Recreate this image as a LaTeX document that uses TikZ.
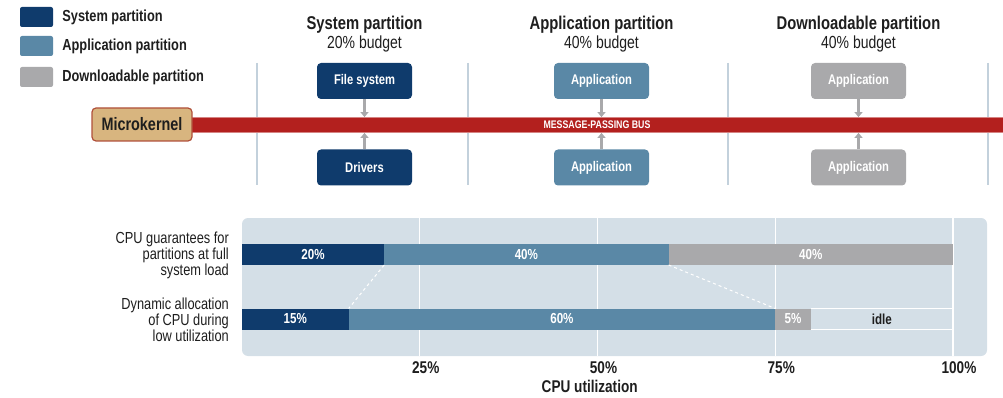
\documentclass[tikz,border=0pt]{standalone}
\usepackage{fontspec}
\setmainfont{Liberation Sans}[FakeStretch=0.8]
\usetikzlibrary{positioning,arrows.meta}

\definecolor{sysblue}{HTML}{0F3B6C}
\definecolor{appblue}{HTML}{5A88A6}
\definecolor{dlgray}{HTML}{A9A9AB}
\definecolor{busred}{HTML}{B3201E}
\definecolor{kerneltan}{HTML}{D8B57F}
\definecolor{kernelrim}{HTML}{B0503A}
\definecolor{chartbg}{HTML}{D4DFE7}
\definecolor{sepline}{HTML}{C3D1DC}
\definecolor{inktext}{HTML}{1E1E1E}

% one percent of CPU on the chart
\newcommand\pct{7.11pt}

\tikzset{
  swatch/.style={rounded corners=2pt, minimum width=33pt, minimum height=20pt, inner sep=0pt},
  legtext/.style={text=inktext, font=\bfseries\fontsize{16}{18}\selectfont, anchor=west, inner sep=0pt},
  head/.style={text=inktext, font=\bfseries\fontsize{18.5}{20}\selectfont, inner sep=1pt},
  budget/.style={text=inktext, font=\fontsize{17.5}{19}\selectfont, inner sep=1pt},
  part/.style={rounded corners=4pt, minimum width=95pt, minimum height=36pt, inner sep=0pt,
    text=white, font=\bfseries\fontsize{14}{16}\selectfont},
  sysbox/.style={part, fill=sysblue},
  appbox/.style={part, fill=appblue},
  dlbox/.style={part, fill=dlgray},
  busarrow/.style={draw=dlgray, line width=3pt, -{Triangle[length=5pt,width=8pt]}},
  sep/.style={draw=sepline, line width=2.5pt},
  seg/.style={minimum height=21pt, inner sep=0pt, outer sep=0pt, text=white,
    font=\bfseries\fontsize{14.5}{16}\selectfont},
  rowlabel/.style={text=inktext, align=right, anchor=east, inner sep=0pt,
    font=\fontsize{16}{16}\selectfont},
  axislabel/.style={text=inktext, font=\bfseries\fontsize{17}{18}\selectfont, inner sep=0pt}
}

\begin{document}
\begin{tikzpicture}[x=1pt,y=-1pt]

  \useasboundingbox (0,0) rectangle (1003,398);

  % Legend
  \node[swatch, fill=sysblue] (sw-sys) at (36.5,17) {};
  \node[swatch, fill=appblue] (sw-app) at (36.5,46) {};
  \node[swatch, fill=dlgray]  (sw-dl)  at (36.5,77) {};
  \node[legtext, right=9pt of sw-sys] (lg-sys) {System partition};
  \node[legtext, right=9pt of sw-app] (lg-app) {Application partition};
  \node[legtext, right=9pt of sw-dl]  (lg-dl)  {Downloadable partition};

  % Partition headings
  \node[head] (h-sys) at (364.5,25) {System partition};
  \node[head] (h-app) at (601.5,25) {Application partition};
  \node[head] (h-dl)  at (858.5,25) {Downloadable partition};
  \node[budget, below=0pt of h-sys] (b-sys) {20\% budget};
  \node[budget, below=0pt of h-app] (b-app) {40\% budget};
  \node[budget, below=0pt of h-dl]  (b-dl)  {40\% budget};

  % Separators between partitions
  \foreach \x in {257,468,728,988}
    \draw[sep] (\x,63) -- (\x,185);

  % Message-passing bus and microkernel
  \node[fill=busred, draw=busred!55!white, line width=0.8pt, minimum width=813pt,
    minimum height=15pt, inner sep=0pt, text=white,
    font=\bfseries\fontsize{11}{11}\selectfont] (bus) at (597,125) {MESSAGE-PASSING BUS};
  \node[fill=kerneltan, draw=kernelrim, line width=1.2pt, rounded corners=4pt,
    minimum width=100pt, minimum height=33pt, inner sep=0pt, text=inktext,
    font=\bfseries\fontsize{18}{18}\selectfont] (mk) at (142,124.5) {Microkernel};

  % Partition processes
  \node[sysbox] (fs)    at (364.5,81)    {File system};
  \node[sysbox] (drv)   at (364.5,167.5) {Drivers};
  \node[appbox] (app-a) at (601.5,81)    {Application};
  \node[appbox] (app-b) at (601.5,167.5) {Application};
  \node[dlbox]  (dl-a)  at (858.5,81)    {Application};
  \node[dlbox]  (dl-b)  at (858.5,167.5) {Application};

  % Links to the bus
  \foreach \n in {fs,app-a,dl-a}
    \draw[busarrow] (\n.south) -- (\n.south |- bus.north);
  \foreach \n in {drv,app-b,dl-b}
    \draw[busarrow] (\n.north) -- (\n.north |- bus.south);

  % CPU chart background and grid
  \fill[chartbg, rounded corners=6pt] (242,218) rectangle (987,356);
  \foreach \p in {25,50,75,100} {
    \draw[white, line width=1.2pt] ({242+\p*7.11},218) -- ({242+\p*7.11},356);
    \node[axislabel] (ax-\p) at ({248+\p*7.11},368) {\p\%};
  }
  \node[axislabel, below=6pt of ax-50.south west, anchor=north] (ax-title) {CPU utilization};

  % Guarantees at full load
  \node[seg, fill=sysblue, minimum width=20*\pct, anchor=west] (full-sys) at (242,254.5) {20\%};
  \node[seg, fill=appblue, minimum width=40*\pct, right=0pt of full-sys] (full-app) {40\%};
  \node[seg, fill=dlgray,  minimum width=40*\pct, right=0pt of full-app] (full-dl)  {40\%};

  % Dynamic allocation at low load
  \node[seg, fill=sysblue, minimum width=15*\pct, anchor=west] (low-sys) at (242,319) {15\%};
  \node[seg, fill=appblue, minimum width=60*\pct, right=0pt of low-sys] (low-app) {60\%};
  \node[seg, fill=dlgray,  minimum width=5*\pct,  right=0pt of low-app] (low-dl)  {5\%};
  \node[seg, minimum width=20*\pct, text=inktext, right=0pt of low-dl] (low-idle) {idle};
  \draw[white, line width=1.2pt] (low-idle.north west) -- (low-idle.north east)
    (low-idle.south west) -- (low-idle.south east);

  % Shift of the partition edges
  \draw[white, dashed, line width=1pt] (full-sys.south east) -- (low-sys.north east);
  \draw[white, dashed, line width=1pt] (full-app.south east) -- (low-app.north east);

  % Row labels
  \node[rowlabel] (row-full) at (229,255) {CPU guarantees for\\partitions at full\\system load};
  \node[rowlabel] (row-low)  at (229,320) {Dynamic allocation\\of CPU during\\low utilization};

\end{tikzpicture}
\end{document}
